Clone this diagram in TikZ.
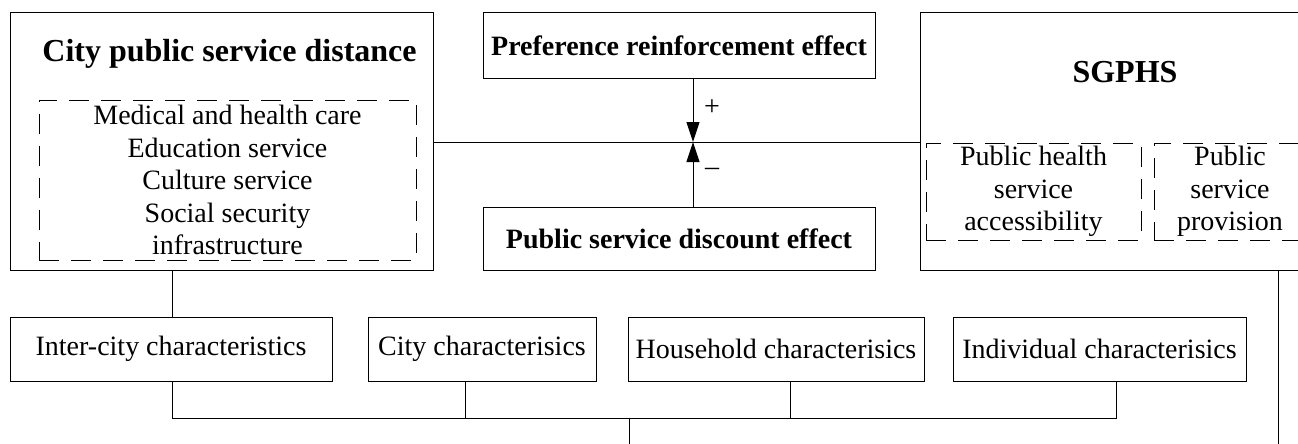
\documentclass[tikz,border=0pt]{standalone}
\usepackage{fontspec}
\setmainfont{Liberation Serif}
\usetikzlibrary{arrows.meta}
\tikzset{
  box/.style={draw, line width=1pt, inner sep=0pt, align=center},
  dbox/.style={draw, line width=1pt, dash pattern=on 20pt off 12pt, inner sep=0pt, align=center},
  link/.style={line width=1pt},
  bigtitle/.style={font=\fontsize{32}{38}\selectfont\bfseries},
}
\begin{document}
\begin{tikzpicture}[x=1pt,y=-1pt,>={Triangle[length=20pt,width=13pt]},
  every node/.style={font=\fontsize{28}{32.5}\selectfont}]
\useasboundingbox (0,0) rectangle (1298,444);
%Khung trai
\node[box, minimum width=423, minimum height=257] (cpsd) at (221.5,141.5) {};
\node[bigtitle] (cpsdtitle) at (229.5,54) {City public service distance};
\node[dbox, minimum width=377, minimum height=160] (cpsdsub) at (227.5,180)
  {Medical and health care\\Education service\\Culture service\\Social security\\infrastructure};
%Khung giua
\node[box, minimum width=392, minimum height=65] (pre) at (679,45.5) {\bfseries Preference reinforcement effect};
\node[box, minimum width=392, minimum height=63] (dis) at (679,238.5) {\bfseries Public service discount effect};
%Khung phai
\node[box, minimum width=410, minimum height=257] (sgphs) at (1125,141.5) {};
\node[bigtitle] (sgphstitle) at (1125,72) {SGPHS};
\node[dbox, minimum width=215, minimum height=97] (acc) at (1033.5,191.5) {Public health\\service\\accessibility};
\node[dbox, minimum width=152, minimum height=97] (prov) at (1230,191.5) {Public\\service\\provision};
%Dac diem
\node[box, minimum width=322, minimum height=64] (inter) at (171,349) {Inter-city characteristics};
\node[box, minimum width=228, minimum height=64] (citych) at (482,349) {City characterisics};
\node[box, minimum width=296, minimum height=64] (house) at (776,349) {Household characterisics};
\node[box, minimum width=293, minimum height=64] (indiv) at (1099.5,349) {Individual characterisics};
%Mui ten
\coordinate (meet) at (693,142);
\draw[link,->] (pre.south -| meet) -- (meet);
\draw[link,->] (dis.north -| meet) -- (meet);
\node (plus) at (712,108) {+};
\node (minus) at (712,172) {–};
\draw[link] (cpsd.east |- meet) -- (sgphs.west |- meet);
%Duong noi duoi
\coordinate (b1) at (172,418);
\coordinate (b2) at (465,418);
\coordinate (b3) at (790,418);
\coordinate (b4) at (1116,418);
\coordinate (out) at (629,444);
\coordinate (rend) at (1278,444);
\draw[link] (cpsd.south -| b1) -- (inter.north -| b1);
\draw[link] (inter.south -| b1) -- (b1) -- (b4) -- (indiv.south -| b4);
\draw[link] (citych.south -| b2) -- (b2);
\draw[link] (house.south -| b3) -- (b3);
\draw[link] (out |- b1) -- (out);
\draw[link] (sgphs.south -| rend) -- (rend);
\end{tikzpicture}
\end{document}
